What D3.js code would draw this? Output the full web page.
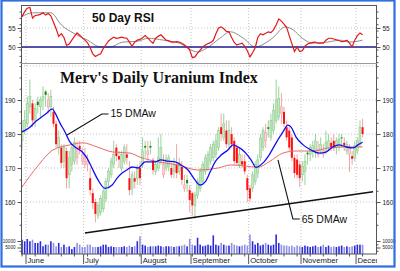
<!DOCTYPE html>
<html>
<head>
<meta charset="utf-8">
<script src="https://cdn.jsdelivr.net/npm/d3@7"></script>
<style>
  body { margin: 0; background: #fff; }
  svg { display: block; font-family: "Liberation Sans", Arial, sans-serif; }
</style>
</head>
<body>
<div id="chart"></div>
<script>
// daily candles, [open, high, low, close], one per trading day
const candles = [
  [178,184,175,181],[181,187,180,184],[183,191,182,189],[188,196,186,191],[189,190,182,184],
  [184,189,182,187.5],[189.5,191,186,188.5],[188,191,185,190],[190,194,187,191],[192.5,193,188,191.5],
  [188,192,186,190],[188,193,185,191],[186.5,188,182,183],[183,184,176,177],[176,181,174,179],
  [176,177,170,171.5],[172,177,170,176],[175,176,164,167],[168,175,164,173],[171,177,169,176],
  [172,179,171,177.5],[173,178,171,176],[176.5,178,174,175.5],[172,176,171,174],[171,176,170,173],
  [171,174,169,172],[167,170,162,163.5],[162.6,164,158,159.7],[160,161,154,156.5],[156,160,155,159],
  [157,162,156,161],[158,164,157,163],[161,167,160,166],[166,170,164,169],[168,173,167,172],
  [171,178,170,174],[176,177,172,173.5],[173.5,175,170,172.5],[170,175,169,174],[172,177,171,176],
  [174,177,171,173],[167,172,162,163.5],[164,169,162,168],[167,169,164,166],[167,171,165,170],
  [170,172,165,167],[171,179,170,175],[176.5,178,173,176],[174,178,172,175],[176.5,178,174,176],
  [172.4,173,168,169.4],[169,172,168,171],[170,179,169,173],[172,180,171,176],[168,174,167,171],
  [170,174,169,172.5],[170.5,174,169,173],[170,172,167,168],[169,173,167,171],[171,177,167,168.5],
  [169,173,168,171.5],[170.3,172,165,166.5],[164,168,163,165],[166.5,168,163,165.5],[163.5,165,157,160.6],
  [162.6,163,156,159],[159,163,155,162],[162,167,161,166],[164,170,163,169],[166,172,165,171],
  [169,174,168,173],[170,175,169,174],[172,177,171,176],[173,178,172,177],[174,180,173,178],
  [176,182,175,181],[182,186,178,180],[179,186,178,183],[181,184,176,177],[177,184,176,181],
  [180,182,176,177],[178,179,171,172],[176,177,171,171.5],[171,176,170,174],[172,174,170,171],
  [172,174,168,169],[167,168,160,163.5],[164,165,160,161],[164,169,163,168],[166,172,165,171],
  [168.5,174,167,172.4],[173,180,172,178.8],[176,182,175,181],[178,183,176,180.5],[182,184,179,181.5],
  [179,186,178,184],[181,189,180,187],[184,196,183,190],[185,194,184,190.5],[186,192,183,188],
  [186.5,188,182,183],[182,184,178,179],[181,182,175,176],[179,180,172,173],[173,174,167,168.5],
  [172.5,174,167,168],[171,172,164.4,167],[168,172,166,170.5],[169,174,165,172],[174.5,175,171,174],
  [174,177,172,176],[175,178,173,176.5],[175,180,173,178],[174,178,173,175.5],[175,179,174,177],
  [174,177,173,175],[175,181,174,177.5],[176,180,175,178],[177.4,179,175,176],[178,180,175,175.8],
  [176,179,174,178],[176,180,175,178.5],[179,180,176,178.7],[177.4,179,175,176.6],[175,178,174,177],
  [174,177,168.8,176],[173.5,175,171,172.7],[173,178,172,176.5],[175,179,174,178],[177,184,176,182],
  [182,184.5,179,180]
]

const volumes = [
  11000,9800,11500,9800,11000,8500,8500,9800,6000,7200,
  7200,9800,8500,5900,8500,5400,7200,5400,5900,3800,
  5400,8500,7200,5400,5400,7200,7200,5400,5400,5400,
  5900,7200,7200,5400,5900,5400,5400,5400,5400,5900,
  5400,6500,5400,6000,9800,13600,7200,6500,5400,5900,
  6000,5900,6500,6000,5400,6000,5900,6000,5400,5900,
  6000,6500,7200,5900,11700,7200,6500,12500,7200,6000,
  6500,7200,6500,14300,7200,6500,8500,7200,6500,6500,
  8500,7200,6500,5900,6500,7200,6500,15000,9800,7200,
  8500,6500,7200,8500,7200,6500,7200,15000,8500,7200,
  6500,6500,5900,6500,5400,6500,5900,5400,6500,5900,
  5400,5900,6500,5400,5900,7200,5400,6500,5400,5900,
  5400,5900,6500,5400,5900,5400,5900,6500,7200,7200,
  7200
]

const rsi = [
  58,59.3,60.2,60.4,57.6,58.3,58.4,58.6,59,58.4,
  58.8,58.2,56.5,54.8,52.8,53.5,52.5,50.4,50.8,51.8,
  52.8,53.7,53.1,52.4,51.8,51.1,49.8,48.2,47.5,47.9,
  48.2,49.6,50.6,51.6,52.1,52.6,52.3,52.4,52.6,52.4,
  52.3,51.3,50.2,51.3,51.8,52,52.4,53,52.4,51.6,
  51,52.3,52.8,53.2,52.5,51.8,51.6,51.3,51.3,51.4,
  51.3,51,50.5,50,49.2,47.2,47.4,48.4,49.2,50,
  50.5,50.9,51.2,51.7,53.5,55,55.3,54.8,54.1,54,
  52.5,51.2,50.5,50.8,51,50.2,49,47.4,48.5,49.8,
  52.5,53.5,53.2,53.6,54,53.8,54.5,55.8,57.4,56.8,
  56,55.2,53,50.9,48.8,50,48.8,49,50.2,50.8,
  51,51.2,51.3,51,51,51,51.8,52.3,52.3,52.1,
  51.9,51.7,51.4,51.5,51.8,51,50,51.8,53,53.7,
  53.2
]

// smoothed lines, [day, value]
const rsiAvg = [[0,58],[4,59],[11,59],[15,55.8],[19.5,53.7],[25,51.8],[30,50],[33.5,50],[38.5,51.3],
  [44,51.5],[48,52.3],[54,51.8],[60,51],[67,48.7],[70.5,49.7],[75.5,52.3],[79.5,54],[84.5,52.3],
  [89,50],[93.5,51.3],[96,52.6],[100.5,55.3],[103.5,54.5],[107,52.3],[111,51],[116.5,51.3],
  [121.5,51.8],[125,51.3],[130,51.8]]

const dma15 = [[0,180.6],[3,182],[5,183.5],[7,184.7],[9.5,186.2],[11.5,187.4],[12.6,186.2],[14.5,183.2],
  [16.4,180.6],[18.3,177.6],[20.2,176.2],[23,174.7],[24.8,172.9],[26.7,170],[29,166.5],[31.7,164],
  [34.4,165],[36.3,167],[38.2,168.5],[40,169.4],[42,170.3],[44.3,170],[47,171.8],[50.8,171.8],
  [53,172.4],[55.7,172],[58.4,171.8],[60.7,170.9],[63.4,169.4],[66,166.5],[68,165],[70,166],
  [71.8,168.8],[73.7,171.8],[76,173.8],[78.6,175.3],[80.5,176.8],[82.4,176.2],[85,174.7],
  [87.4,172.4],[89.3,170.2],[92,171.5],[94.3,173.8],[97,177.4],[99.6,180.6],[101.5,182.6],
  [102.7,182],[104.6,179.1],[107.3,176.8],[110.3,175.3],[113.4,174.4],[116,174.7],[118.7,176.2],
  [121,176.8],[123.7,176.2],[126.3,175.9],[128.2,176.8],[130,177.6]]

const dma65 = [[0,164.4],[5.7,170.3],[11.8,175.3],[18.3,176.8],[23.3,177.4],[28.6,176.2],[34.7,174.7],
  [41.2,174.4],[45,173.2],[52,171.8],[59.5,170.9],[67.2,169.4],[74.8,170],[79.8,170.9],[85,170.6],
  [90,170.2],[94.3,171.8],[99.6,174.4],[104.6,175],[111,175],[117,175.9],[123.7,176.2],[130,176.2]]

const trend = [[24,150.9],[134,163]]

const months = ["June","July","August","September","October","November","December"]
const monthStart = [2,24,46,65,87,107,128]
const priceTicks = [190,180,170,160]
const rsiTicks = [55,50]
const volTicks = [10000,5000]

const width = 400, height = 271

const svg = d3.select("#chart").append("svg")
  .attr("width", width).attr("height", height)

const x = d3.scaleLinear().domain([-0.4, 135.5]).range([21, 377])
const yRsi = d3.scaleLinear().domain([50, 55]).range([47, 28])
const yPrice = d3.scaleLinear().domain([160, 190]).range([202, 100])
const yVol = d3.scaleLinear().domain([0, 10000]).range([254, 241])

const defs = svg.append("defs")
defs.append("clipPath").attr("id", "clipRsi").append("rect").attr("x", 21).attr("y", 5).attr("width", 356).attr("height", 58)
defs.append("clipPath").attr("id", "clipPrice").append("rect").attr("x", 21).attr("y", 63).attr("width", 356).attr("height", 191)
defs.append("clipPath").attr("id", "clipX").append("rect").attr("x", 0).attr("y", 254).attr("width", 377).attr("height", 17)

// grid
const grid = svg.append("g").attr("stroke", "#c4c4c4").attr("stroke-dasharray", "1,2")
monthStart.forEach(m => {
  grid.append("line").attr("x1", x(m) - 1.3).attr("x2", x(m) - 1.3).attr("y1", 5).attr("y2", 254)
})
;[200].concat(priceTicks).forEach(v => {
  grid.append("line").attr("x1", 21).attr("x2", 377).attr("y1", yPrice(v)).attr("y2", yPrice(v))
})
grid.append("line").attr("x1", 21).attr("x2", 377).attr("y1", yRsi(55)).attr("y2", yRsi(55))

// RSI panel
const rsiG = svg.append("g").attr("clip-path", "url(#clipRsi)")
rsiG.append("path")
  .attr("d", d3.line().x(d => x(d[0])).y(d => yRsi(d[1])).curve(d3.curveMonotoneX)(rsiAvg))
  .attr("fill", "none").attr("stroke", "#8c8c8c").attr("stroke-width", 1)
rsiG.append("line").attr("x1", 21).attr("x2", 377).attr("y1", yRsi(50)).attr("y2", yRsi(50))
  .attr("stroke", "#1a1a8c").attr("stroke-width", 1.4)
rsiG.append("path")
  .attr("d", d3.line().x((d, i) => x(i)).y(d => yRsi(d))(rsi))
  .attr("fill", "none").attr("stroke", "#e41818").attr("stroke-width", 1.2)

svg.append("text").attr("x", 92).attr("y", 22)
  .attr("font-size", 12).attr("font-weight", "bold").attr("fill", "#111")
  .text("50 Day RSI")

// volume
const volG = svg.append("g")
volG.selectAll("rect").data(volumes).enter().append("rect")
  .attr("x", (d, i) => x(i) - 0.8)
  .attr("width", 1.6)
  .attr("y", d => yVol(d))
  .attr("height", d => yVol(0) - yVol(d))
  .attr("fill", (d, i) => (i == 0 || candles[i][3] >= candles[i - 1][3]) ? "#2b2bd6" : "#8f8fe6")

// price panel
const priceG = svg.append("g").attr("clip-path", "url(#clipPrice)")

const up = (d, i) => i == 0 || d[3] >= candles[i - 1][3]

const candleG = priceG.selectAll(".candle").data(candles).enter().append("g")
  .attr("class", "candle")
candleG.append("line")
  .attr("x1", (d, i) => x(i)).attr("x2", (d, i) => x(i))
  .attr("y1", d => yPrice(d[1])).attr("y2", d => yPrice(d[2]))
  .attr("stroke", (d, i) => up(d, i) ? "#9ad29a" : "#f3a3a8")
  .attr("stroke-width", 1)
candleG.append("rect")
  .attr("x", (d, i) => x(i) - 1)
  .attr("width", 2)
  .attr("y", d => yPrice(Math.max(d[0], d[3])))
  .attr("height", d => Math.max(1, Math.abs(yPrice(d[0]) - yPrice(d[3]))))
  .attr("fill", (d, i) => {
    if (d[3] < d[0]) return up(d, i) ? "#0a8a0a" : "#ff1010"
    return up(d, i) ? "#c4e8c4" : "#fbd0d4"
  })
  .attr("stroke", (d, i) => d[3] < d[0] ? "none" : (up(d, i) ? "#86c686" : "#eb9aa0"))
  .attr("stroke-width", 0.5)

priceG.append("path")
  .attr("d", d3.line().x(d => x(d[0])).y(d => yPrice(d[1])).curve(d3.curveMonotoneX)(dma65))
  .attr("fill", "none").attr("stroke", "#e86a6a").attr("stroke-width", 1)
priceG.append("path")
  .attr("d", d3.line().x(d => x(d[0])).y(d => yPrice(d[1])).curve(d3.curveMonotoneX)(dma15))
  .attr("fill", "none").attr("stroke", "#1010f0").attr("stroke-width", 1.3)
priceG.append("path")
  .attr("d", d3.line().x(d => x(d[0])).y(d => yPrice(d[1]))(trend))
  .attr("fill", "none").attr("stroke", "#111").attr("stroke-width", 1.5)

svg.append("text").attr("x", 60).attr("y", 83)
  .attr("font-family", "Liberation Serif, Times New Roman, serif")
  .attr("font-size", 16).attr("font-weight", "bold").attr("fill", "#111")
  .text("Merv's Daily Uranium Index")

// labels for the moving averages
const notes = [
  {text: "15 DMAw", from: [17.2, 179.7], bend: [30.5, 185.9], end: 33},
  {text: "65 DMAw", from: [97.7, 172.4], bend: [103.4, 155], end: 106}
]
notes.forEach(n => {
  svg.append("polyline")
    .attr("points", [[x(n.from[0]), yPrice(n.from[1])], [x(n.bend[0]), yPrice(n.bend[1])], [x(n.end), yPrice(n.bend[1])]].join(" "))
    .attr("fill", "none").attr("stroke", "#111").attr("stroke-width", 1.1)
  svg.append("text").attr("x", x(n.end) + 2).attr("y", yPrice(n.bend[1]) + 3.5)
    .attr("font-size", 10.5).attr("fill", "#111").text(n.text)
})

// frame and axes
svg.append("rect").attr("x", 21.5).attr("y", 5.5).attr("width", 355).attr("height", 248.5)
  .attr("fill", "none").attr("stroke", "#555")
svg.append("line").attr("x1", 21).attr("x2", 377).attr("y1", 63.5).attr("y2", 63.5)
  .attr("stroke", "#9a9a9a")

function sideAxes(scale, major, minor, fmt, size) {
  [[d3.axisLeft, 21.5], [d3.axisRight, 376.5]].forEach(([ax, pos]) => {
    const g = svg.append("g").attr("transform", "translate(" + pos + ",0)")
      .call(ax(scale).tickValues(minor).tickSize(2).tickFormat(""))
    g.select(".domain").remove()
    const g2 = svg.append("g").attr("transform", "translate(" + pos + ",0)")
      .call(ax(scale).tickValues(major).tickSize(4).tickPadding(2).tickFormat(fmt))
    g2.select(".domain").remove()
    g.selectAll("line").attr("stroke", "#555")
    g2.selectAll("line").attr("stroke", "#555")
    g2.selectAll("text").attr("font-size", size).attr("fill", "#222")
      .attr("font-family", "Liberation Sans, Arial, sans-serif")
  })
}
sideAxes(yRsi, rsiTicks, d3.range(46, 61, 5 / 3), d3.format("d"), 6.5)
sideAxes(yPrice, priceTicks, d3.range(153.3, 200, 10 / 3), d3.format("d"), 6.5)
sideAxes(yVol, volTicks, [2500, 7500], d3.format("d"), 4.6)

// bottom axis
const xAxis = svg.append("g")
xAxis.selectAll(".wk").data(d3.range(0, 135, 5)).enter().append("line")
  .attr("x1", d => x(d)).attr("x2", d => x(d)).attr("y1", 254).attr("y2", 256.5)
  .attr("stroke", "#555")
const monthG = xAxis.append("g").attr("clip-path", "url(#clipX)")
months.forEach((m, k) => {
  const mx = x(monthStart[k]) - 1.3
  monthG.append("line").attr("x1", mx).attr("x2", mx).attr("y1", 254).attr("y2", 264)
    .attr("stroke", "#555")
  monthG.append("text").attr("x", mx + 1.5).attr("y", 263)
    .attr("font-size", 7.7).attr("fill", "#222").text(m)
})

// outer frame
svg.append("rect").attr("x", 1.5).attr("y", 0.5).attr("width", 393).attr("height", 266)
  .attr("fill", "none").attr("stroke", "#2f6fe0").attr("stroke-width", 2.2)
</script>
</body>
</html>
